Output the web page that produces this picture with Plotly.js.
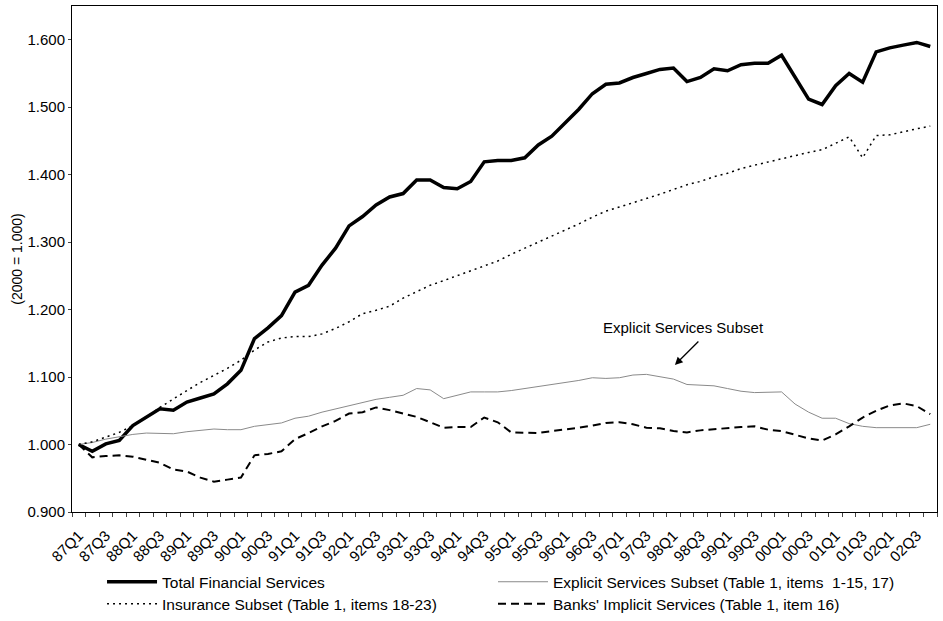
<!DOCTYPE html>
<html>
<head>
<meta charset="utf-8">
<script src="https://cdn.plot.ly/plotly-3.0.1.min.js"></script>
<style>html,body{margin:0;padding:0;background:#fff;}#chart{width:943px;height:621px;}</style>
</head>
<body>
<div id="chart"></div>
<script>
const quarters = ["87Q1","87Q2","87Q3","87Q4","88Q1","88Q2","88Q3","88Q4","89Q1","89Q2","89Q3","89Q4",
"90Q1","90Q2","90Q3","90Q4","91Q1","91Q2","91Q3","91Q4","92Q1","92Q2","92Q3","92Q4",
"93Q1","93Q2","93Q3","93Q4","94Q1","94Q2","94Q3","94Q4","95Q1","95Q2","95Q3","95Q4",
"96Q1","96Q2","96Q3","96Q4","97Q1","97Q2","97Q3","97Q4","98Q1","98Q2","98Q3","98Q4",
"99Q1","99Q2","99Q3","99Q4","00Q1","00Q2","00Q3","00Q4","01Q1","01Q2","01Q3","01Q4",
"02Q1","02Q2","02Q3","02Q4"];
const labeledQuarters = ["87Q1","87Q3","88Q1","88Q3","89Q1","89Q3","90Q1","90Q3","91Q1","91Q3","92Q1","92Q3",
"93Q1","93Q3","94Q1","94Q3","95Q1","95Q3","96Q1","96Q3","97Q1","97Q3","98Q1","98Q3","99Q1","99Q3",
"00Q1","00Q3","01Q1","01Q3","02Q1","02Q3"];

const totalFinancial = [1.000,0.990,1.001,1.006,1.028,1.040,1.053,1.051,1.063,1.069,
1.075,1.090,1.110,1.157,1.173,1.191,1.226,1.236,1.266,1.291,
1.324,1.338,1.355,1.367,1.372,1.392,1.392,1.381,1.379,1.390,
1.419,1.421,1.421,1.425,1.444,1.457,1.477,1.497,1.520,1.534,
1.536,1.544,1.550,1.556,1.558,1.538,1.544,1.557,1.554,1.563,
1.565,1.565,1.577,1.545,1.512,1.504,1.532,1.550,1.537,1.582,
1.588,1.592,1.596,1.590];

const explicitServices = [1.000,1.003,1.008,1.012,1.015,1.017,1.017,1.016,1.019,1.021,
1.023,1.022,1.022,1.027,1.030,1.032,1.039,1.042,1.048,1.053,
1.058,1.063,1.067,1.070,1.073,1.083,1.081,1.068,1.073,1.078,
1.078,1.078,1.080,1.083,1.086,1.089,1.091,1.095,1.099,1.098,
1.099,1.103,1.104,1.101,1.097,1.089,1.088,1.087,1.083,1.079,
1.077,1.077,1.078,1.060,1.048,1.039,1.039,1.031,1.027,1.025,
1.025,1.025,1.025,1.030];

const insurance = [1.000,1.004,1.011,1.018,1.028,1.040,1.055,1.068,1.080,1.092,
1.102,1.113,1.125,1.140,1.152,1.158,1.160,1.160,1.164,1.172,
1.182,1.194,1.199,1.205,1.217,1.226,1.236,1.243,1.250,1.257,
1.264,1.272,1.282,1.291,1.299,1.308,1.318,1.327,1.337,1.346,
1.352,1.358,1.364,1.371,1.378,1.385,1.390,1.397,1.402,1.409,
1.414,1.419,1.424,1.429,1.433,1.437,1.447,1.456,1.425,1.458,
1.459,1.464,1.468,1.472];

const banksImplicit = [1.000,0.981,0.983,0.984,0.982,0.978,0.973,0.963,0.960,0.951,
0.945,0.948,0.951,0.984,0.986,0.990,1.008,1.017,1.027,1.035,
1.046,1.048,1.055,1.051,1.046,1.041,1.033,1.025,1.026,1.026,
1.040,1.033,1.018,1.017,1.017,1.020,1.022,1.025,1.028,1.032,
1.033,1.030,1.025,1.024,1.020,1.018,1.021,1.023,1.025,1.026,
1.027,1.022,1.020,1.015,1.009,1.006,1.015,1.027,1.040,1.050,
1.058,1.061,1.057,1.045];

const seriesNames = ["Total Financial Services",
"Explicit Services Subset (Table 1, items  1-15, 17)",
"Insurance Subset (Table 1, items 18-23)",
"Banks' Implicit Services (Table 1, item 16)"];

const FONT = "Liberation Sans, Arial, Helvetica, sans-serif";

const traces = [
  {x: quarters, y: totalFinancial, name: seriesNames[0], mode: "lines", legend: "legend",
   line: {color: "#000", width: 3.5}},
  {x: quarters, y: explicitServices, name: seriesNames[1], mode: "lines", legend: "legend2",
   line: {color: "#8a8a8a", width: 1}},
  {x: quarters, y: insurance, name: seriesNames[2], mode: "lines", legend: "legend3",
   line: {color: "#000", width: 1.5, dash: "2px,4px"}},
  {x: quarters, y: banksImplicit, name: seriesNames[3], mode: "lines", legend: "legend4",
   line: {color: "#000", width: 2, dash: "8px,5px"}}
];

const tickText = quarters.map(q => labeledQuarters.includes(q) ? q : "");

const legendBase = {orientation: "h", xref: "container", yref: "container",
  xanchor: "left", yanchor: "top", itemwidth: 50, bgcolor: "rgba(0,0,0,0)",
  font: {family: FONT, size: 15.5, color: "#000"}};
const col1 = 0.1082, col2 = 0.5228, row1 = 0.0899, row2 = 0.0545;

const layout = {
  width: 943, height: 621,
  margin: {l: 72, r: 6, t: 6, b: 109},
  paper_bgcolor: "#fff", plot_bgcolor: "#fff",
  font: {family: FONT, size: 15, color: "#000"},
  showlegend: true,
  legend: Object.assign({}, legendBase, {x: col1, y: row1}),
  legend2: Object.assign({}, legendBase, {x: col2, y: row1}),
  legend3: Object.assign({}, legendBase, {x: col1, y: row2}),
  legend4: Object.assign({}, legendBase, {x: col2, y: row2}),
  xaxis: {type: "category", categoryorder: "array", categoryarray: quarters,
          range: [-0.5, quarters.length - 0.5], automargin: false,
          tickmode: "array", tickvals: quarters, ticktext: tickText,
          tickangle: -45, ticks: "outside", ticklen: 4, tickson: "boundaries",
          ticklabelstandoff: 8,
          showline: true, linecolor: "#000", linewidth: 1, mirror: true,
          showgrid: false, zeroline: false,
          tickfont: {family: FONT, size: 15, color: "#000"}},
  yaxis: {range: [0.9, 1.65], dtick: 0.1, tick0: 0.9, tickformat: ".3f",
          ticks: "outside", ticklen: 3, automargin: false,
          showline: true, linecolor: "#000", linewidth: 1, mirror: true,
          showgrid: false, zeroline: false,
          tickfont: {family: FONT, size: 15, color: "#000"},
          title: {text: "(2000 = 1.000)", font: {family: FONT, size: 14, color: "#000"}, standoff: 1}},
  annotations: [
    {xref: "paper", yref: "y", x: 0.7075, y: 1.173, xanchor: "center", yanchor: "middle",
     text: "Explicit Services Subset",
     showarrow: false, font: {family: FONT, size: 15, color: "#000"}},
    {xref: "paper", yref: "y", x: 0.697, y: 1.118, text: "",
     showarrow: true, arrowhead: 2, arrowsize: 1.2, arrowwidth: 1.3, arrowcolor: "#000",
     ax: 25, ay: -25}
  ]
};

Plotly.newPlot("chart", traces, layout, {displayModeBar: false, staticPlot: true});
</script>
</body>
</html>
